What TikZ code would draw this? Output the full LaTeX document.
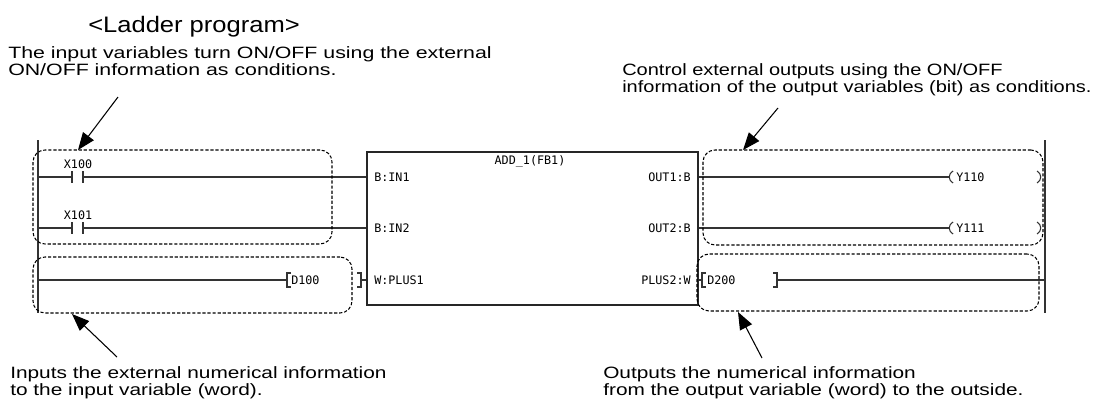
\documentclass[tikz,border=0pt]{standalone}
\usepackage{fontspec}
\setmainfont{Liberation Sans}
\newfontfamily\ladfont{DejaVu Sans Mono}
\usetikzlibrary{arrows.meta}

\newcommand{\widenote}[2][1.27]{\scalebox{#1}[1]{\begin{tabular}{@{}l@{}}#2\end{tabular}}}

\tikzstyle{note} = [anchor=north west, inner sep=0pt, font=\fontsize{12.3}{12.75}\selectfont]
\tikzstyle{lad} = [inner sep=0pt, font=\ladfont\fontsize{8.8}{9}\selectfont, text=black]
\tikzstyle{grp} = [draw, rounded corners=9pt, line width=0.8pt, dash pattern=on 2.4pt off 1.4pt, inner sep=0pt]
\tikzstyle{fbbox} = [draw=black!85, line width=1.1pt, inner sep=0pt, minimum width=248.25pt, minimum height=114.75pt]
\tikzstyle{rung} = [line width=0.8pt, draw=black!80]
\tikzstyle{rail} = [line width=1.1pt, draw=black!80]
\tikzstyle{callout} = [-{Triangle[length=13pt, width=10pt]}, line width=0.8pt]

\begin{document}
\begin{tikzpicture}[x=0.75pt, y=-0.75pt]
\useasboundingbox (0,0) rectangle (1106,407);

% notes
\node [anchor=base west, inner sep=0pt, font=\fontsize{16.8}{17}\selectfont] (title) at (88,32) {\scalebox{1.14}[1]{<Ladder program>}};
\node [note] (ntl) at (8,46) {\widenote[1.30]{The input variables turn ON/OFF using the external\\ON/OFF information as conditions.}};
\node [note] (ntr) at (622,63) {\widenote[1.22]{Control external outputs using the ON/OFF\\information of the output variables (bit) as conditions.}};
\node [note] (nbl) at (10,366) {\widenote{Inputs the external numerical information\\to the input variable (word).}};
\node [note] (nbr) at (603,366) {\widenote{Outputs the numerical information\\from the output variable (word) to the outside.}};

% power rails
\coordinate (lt) at (38,140);
\coordinate (lb) at (38,313);
\coordinate (rt) at (1045,140);
\coordinate (rb) at (1045,313);
\draw [rail] (lt) -- (lb);
\draw [rail] (rt) -- (rb);

% function block
\node [fbbox] (fb) at (532.5,228.5) {};
\node [lad] (fbn) at (530,161) {ADD\_1(FB1)};
\node [lad, anchor=west] (in1) at (374,177) {B:IN1};
\node [lad, anchor=west] (in2) at (374,228) {B:IN2};
\node [lad, anchor=west] (pl1) at (374,280) {W:PLUS1};
\node [lad, anchor=east] (out1) at (691,177) {OUT1:B};
\node [lad, anchor=east] (out2) at (691,228) {OUT2:B};
\node [lad, anchor=east] (pl2) at (691,280) {PLUS2:W};

% contacts
\node [lad] (x100) at (78,164) {X100};
\node [lad] (x101) at (78,215) {X101};
\coordinate (x0a) at (72,177);
\coordinate (x0b) at (83,177);
\coordinate (x1a) at (72,228);
\coordinate (x1b) at (83,228);
\draw [rung] (lt |- x0a) -- (x0a);
\draw [rung] (x0a) ++(0,-6) -- ++(0,12) (x0b) ++(0,-6) -- ++(0,12);
\draw [rung] (x0b) -- (fb.west |- x0b);
\draw [rung] (lt |- x1a) -- (x1a);
\draw [rung] (x1a) ++(0,-6) -- ++(0,12) (x1b) ++(0,-6) -- ++(0,12);
\draw [rung] (x1b) -- (fb.west |- x1b);

% coils
\node [lad, anchor=west] (y110) at (956,177) {Y110};
\node [lad, anchor=west] (y111) at (956,228) {Y111};
\coordinate (y0) at (950,177);
\coordinate (y1) at (950,228);
\draw [rung] (fb.east |- y0) -- (y0);
\draw [rung] (fb.east |- y1) -- (y1);
\draw [rung] (953,171) .. controls (948,174) and (948,180) .. (953,183);
\draw [rung] (1037,171) .. controls (1042,174) and (1042,180) .. (1037,183);
\draw [rung] (953,222) .. controls (948,225) and (948,231) .. (953,234);
\draw [rung] (1037,222) .. controls (1042,225) and (1042,231) .. (1037,234);

% word data
\node [lad, anchor=west] (d100) at (291,280) {D100};
\node [lad, anchor=west] (d200) at (707,280) {D200};
\coordinate (b1) at (287,280);
\coordinate (b2) at (361,280);
\coordinate (b3) at (702,280);
\coordinate (b4) at (777,280);
\draw [rung] (lt |- b1) -- (b1);
\draw [rung] (291,273) -- (287,273) -- (287,287) -- (291,287);
\draw [rung] (357,273) -- (361,273) -- (361,287) -- (357,287);
\draw [rung] (b2) -- (fb.west |- b2);
\draw [rung] (fb.east |- b3) -- (b3);
\draw [rung] (706,273) -- (702,273) -- (702,287) -- (706,287);
\draw [rung] (773,273) -- (777,273) -- (777,287) -- (773,287);
\draw [rung] (b4) -- (rt |- b4);

% dashed groups
\node [grp, minimum width=224.25pt, minimum height=70.5pt] (gin) at (182.5,197) {};
\node [grp, minimum width=239.25pt, minimum height=42pt] (gword) at (192.5,285) {};
\node [grp, minimum width=255pt, minimum height=71.25pt] (gout) at (873,197.5) {};
\node [grp, minimum width=256.5pt, minimum height=42.75pt] (gres) at (868,282.5) {};

% callouts
\coordinate (p1) at (118,97);
\coordinate (q1) at (78,150);
\coordinate (p2) at (778,108);
\coordinate (q2) at (743,150);
\coordinate (p3) at (117,357);
\coordinate (q3) at (72,314);
\coordinate (p4) at (762,358);
\coordinate (q4) at (738,312);
\draw [callout] (p1) -- (q1);
\draw [callout] (p2) -- (q2);
\draw [callout] (p3) -- (q3);
\draw [callout] (p4) -- (q4);
\end{tikzpicture}
\end{document}
